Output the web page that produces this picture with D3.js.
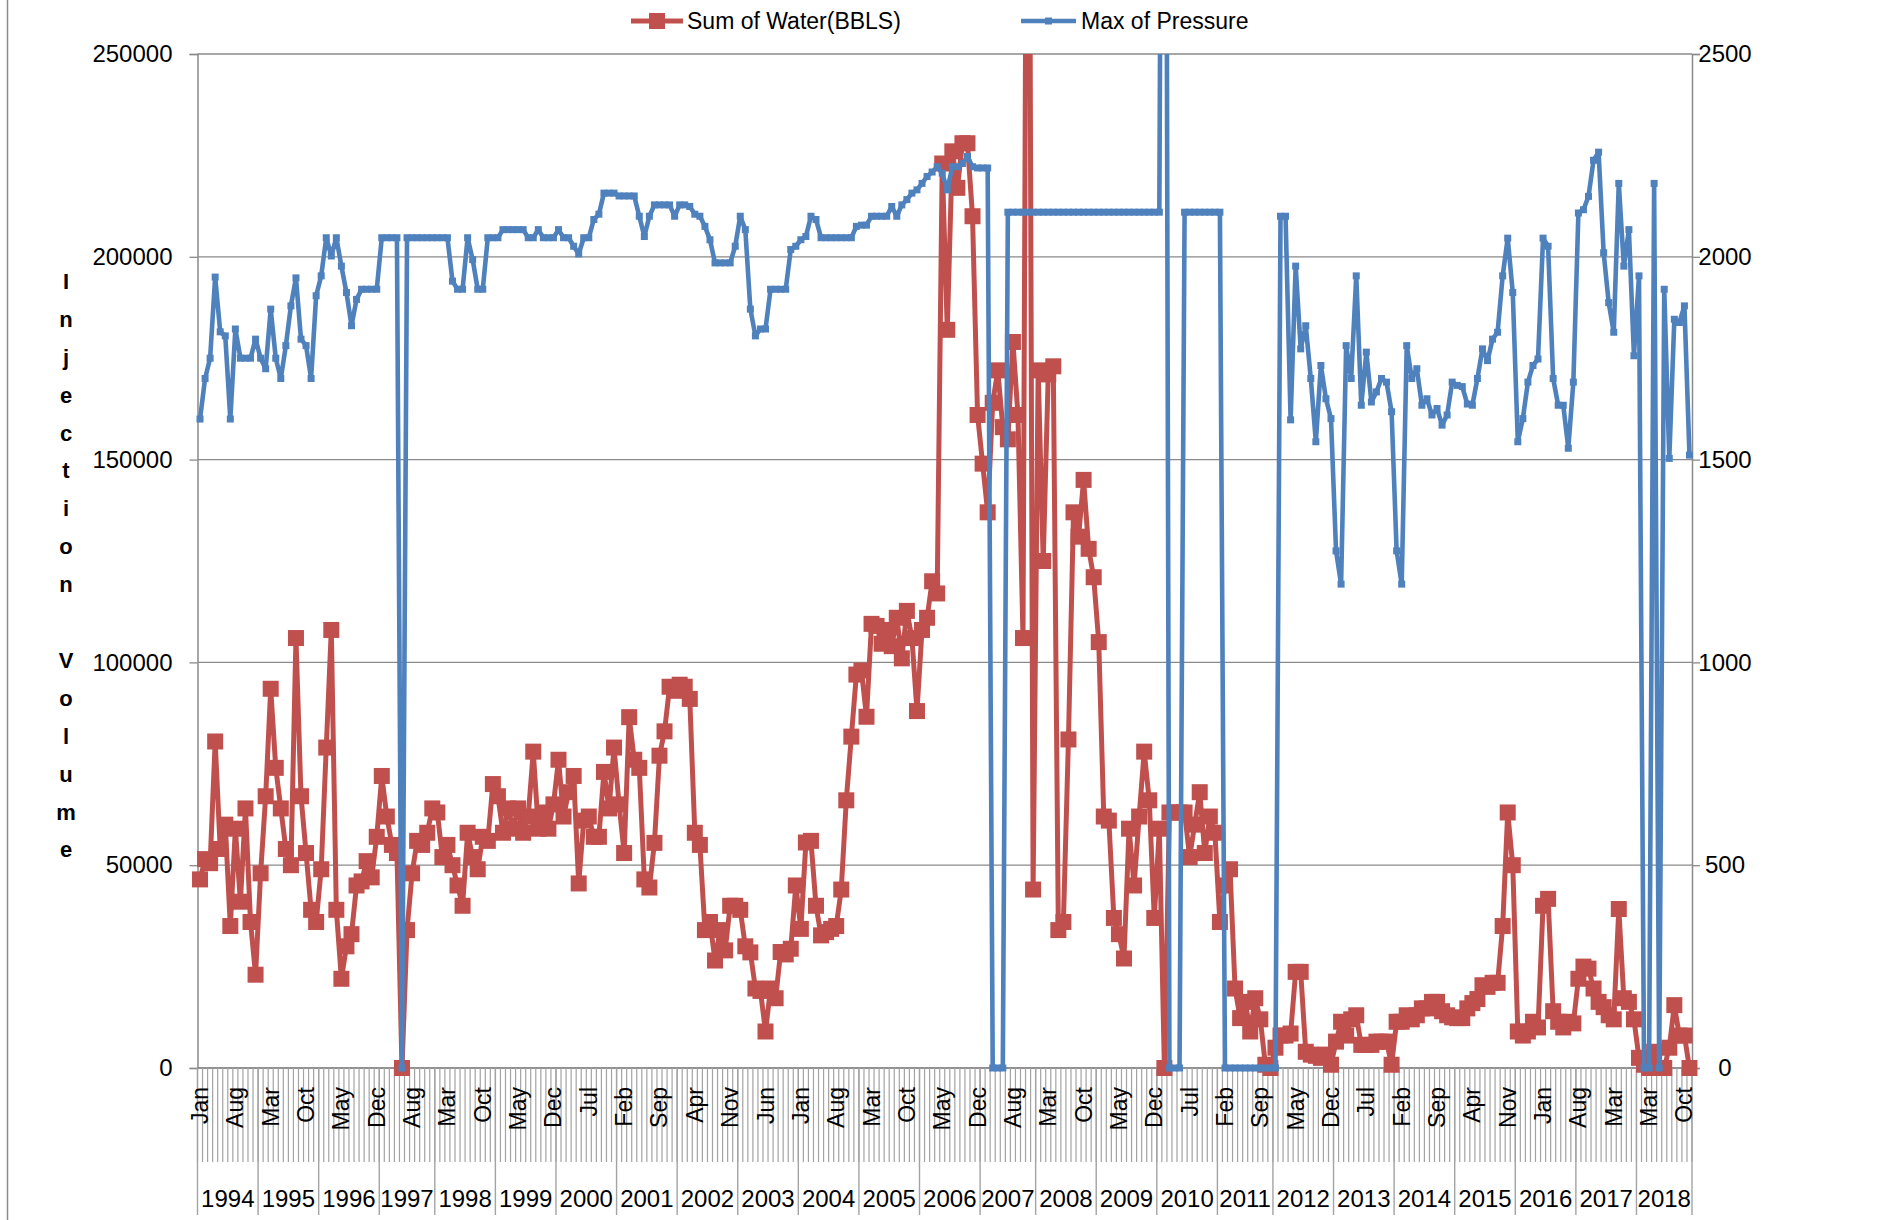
<!DOCTYPE html>
<html><head><meta charset="utf-8">
<script src="https://cdn.jsdelivr.net/npm/d3@7/dist/d3.min.js"></script>
<style>body{margin:0;background:#fff}text{font-family:"Liberation Sans",Arial,sans-serif}</style>
</head><body>
<svg id="c" width="1877" height="1220"></svg>
<script>
// ---------- DATA ----------
const years = [1994,1995,1996,1997,1998,1999,2000,2001,2002,2003,2004,2005,2006,2007,2008,2009,2010,2011,2012,2013,2014,2015,2016,2017,2018];
const monthsFull = ["Jan","Feb","Mar","Apr","May","Jun","Jul","Aug","Sep","Oct","Nov","Dec"];
const months1997 = ["Jan","Feb","Mar","Apr","May","Jun","Aug","Sep","Oct","Nov","Dec"];
const months2007 = ["Jan","Feb","Mar","Apr","May","Jun","Aug","Sep","Oct","Nov","Dec"];
const months2011 = ["Jan","Feb","Mar","Apr","May","Jun","Jul","Aug","Sep","Oct","Dec"];
const months2016 = ["Aug","Sep","Oct","Nov","Dec","Jan","Feb","Mar","Apr","May","Jun","Jul"];
const months2017 = ["Aug","Sep","Oct","Nov","Dec","Jan","Feb","Mar","Apr","May","Jun","Jul"];
const months2018 = ["Jan","Feb","Mar","Apr","May","Jun","Jul","Aug","Sep","Oct","Nov"];

const water = [
 46500,51500,50500,80500,54000,60000,35000,59000,41000,64000,36000,23000,
 48000,67000,93500,74000,64000,54000,50000,106000,67000,53000,39000,36000,
 49000,79000,108000,39000,22000,30000,33000,45000,46000,51000,47000,57000,
 72000,62000,55000,53000,0,34000,48000,56000,55000,58000,64000,
 63000,52000,55000,50000,45000,40000,58000,52000,49000,57000,56000,70000,
 67000,58000,64000,59000,64000,58000,62000,78000,59000,63000,59000,65000,
 76000,62000,68000,72000,45500,61000,62000,57000,57000,73000,64000,79000,
 65000,53000,86500,76000,74000,46500,44500,55500,77000,83000,94000,93000,
 94500,94000,91000,58000,55000,34000,36000,26500,34000,29000,40000,40000,
 39000,30000,28500,19600,19000,9000,19600,17200,28600,28000,29400,45000,
 34300,55600,56000,40000,32700,33500,34300,35000,44000,66000,81700,97000,
 98000,86600,109500,109000,104600,108000,104000,111000,101000,112700,106000,88000,
 108000,111000,120000,117000,223000,182000,226000,217000,228000,228000,210000,161000,
 149000,137000,164000,172000,158000,155000,179000,161000,106000,400000,44000,
 172000,125000,171000,173000,34000,36000,81000,137000,131000,145000,128000,121000,
 105000,62000,61000,37000,33000,27000,59000,45000,62000,78000,66000,37000,
 59000,0,63000,63000,63000,63000,52000,60000,68000,53000,62000,58000,
 36000,45000,49000,19600,12300,16300,9000,17200,12000,800,0,
 5000,8000,8000,8500,23700,23700,4000,3300,3000,2500,3300,800,
 6500,11400,8000,12000,13000,5700,5700,5700,6500,6500,6500,800,
 11400,11400,13000,12000,13000,14700,14700,16300,16300,14000,13000,12500,
 12300,12300,14700,16000,17000,20400,20000,21000,21000,35000,63000,50000,
 9000,8000,9000,11400,10000,40000,41700,14000,11400,10000,11400,11000,
 22000,25000,24500,19600,16300,15000,13000,12000,39200,17200,16300,12000,
 2500,800,0,4000,0,0,5000,15500,8000,8000,0
];

const pressure = [
 1600,1700,1750,1950,1815,1805,1600,1822,1750,1750,1750,1797,
 1750,1724,1871,1750,1700,1781,1879,1948,1797,1781,1700,1904,
 1953,2047,2002,2047,1977,1912,1830,1895,1920,1920,1920,1920,
 2047,2047,2047,2047,0,2047,2047,2047,2047,2047,2047,
 2047,2047,2047,1940,1920,1920,2047,1993,1920,1920,2047,2047,
 2047,2067,2067,2067,2067,2067,2047,2047,2067,2047,2047,2047,
 2067,2047,2047,2026,2007,2047,2047,2092,2105,2157,2157,2157,
 2150,2150,2150,2150,2100,2050,2100,2128,2128,2128,2128,2100,
 2128,2128,2124,2105,2100,2075,2042,1985,1985,1985,1985,2026,
 2100,2067,1871,1805,1822,1822,1920,1920,1920,1920,2018,2026,
 2042,2050,2100,2092,2047,2047,2047,2047,2047,2047,2047,2075,
 2078,2078,2100,2100,2100,2100,2124,2100,2128,2141,2157,2165,
 2181,2198,2209,2222,2206,2165,2222,2222,2230,2247,2222,2219,
 2219,2219,0,0,0,2110,2110,2110,2110,2110,2110,
 2110,2110,2110,2110,2110,2110,2110,2110,2110,2110,2110,2110,
 2110,2110,2110,2110,2110,2110,2110,2110,2110,2110,2110,2110,
 2110,5000,0,0,0,2110,2110,2110,2110,2110,2110,2110,
 2110,0,0,0,0,0,0,0,0,0,0,
 0,2100,2100,1598,1977,1773,1830,1700,1544,1732,1650,1601,
 1275,1193,1781,1700,1953,1634,1765,1642,1667,1700,1691,1618,
 1275,1193,1781,1700,1724,1634,1650,1610,1626,1585,1610,1691,
 1683,1680,1637,1634,1700,1773,1744,1797,1814,1953,2046,1912,
 1544,1601,1691,1732,1748,2046,2026,1700,1634,1634,1528,1691,
 2108,2116,2149,2238,2258,2010,1887,1814,2181,1977,2067,1756,
 1953,0,0,2181,0,1920,1503,1846,1838,1879,1511
];

const waterTicks = [0,50000,100000,150000,200000,250000];
const pressureTicks = [0,500,1000,1500,2000,2500];
const seriesNames = ["Sum of Water(BBLS)","Max of Pressure"];
const axisTitle = "Injection Volume";

// ---------- BUILD ----------
const monthLists = years.map(y => y===1997?months1997: y===2007?months2007: y===2011?months2011:
  y===2016?months2016: y===2017?months2017: y===2018?months2018: monthsFull);
const cats = [];
const groups = [];
monthLists.forEach((ml,k)=>{ const s=cats.length; ml.forEach(m=>cats.push({year:years[k],month:m})); groups.push({year:years[k],start:s,end:cats.length}); });

const RED="#C0504D", BLUE="#4F81BD", GRID="#8a8a8a";
const P={left:197.5,right:1692,top:54,bottom:1068};
const svg=d3.select("#c");
const x=d3.scaleBand().domain(d3.range(cats.length)).range([P.left,P.right]).padding(0);
const bw=x.bandwidth();
const cx=i=>x(i)+bw/2;
const yL=d3.scaleLinear().domain([0,250000]).range([P.bottom,P.top]);
const yR=d3.scaleLinear().domain([0,2500]).range([P.bottom,P.top]);

// outer border line
svg.append("line").attr("x1",7.5).attr("x2",7.5).attr("y1",0).attr("y2",1220).attr("stroke","#8c8c8c").attr("stroke-width",1.5);

// gridlines
svg.append("g").selectAll("line").data(waterTicks).join("line")
  .attr("x1",P.left).attr("x2",P.right).attr("y1",d=>yL(d)).attr("y2",d=>yL(d))
  .attr("stroke",GRID).attr("stroke-width",1.3);

// left axis
const gL=svg.append("g").attr("transform",`translate(${P.left},0)`)
  .call(d3.axisLeft(yL).tickValues(waterTicks).tickSize(8).tickPadding(17).tickFormat(d=>String(d)));
gL.select(".domain").attr("stroke",GRID).attr("stroke-width",1.5);
gL.selectAll(".tick line").attr("stroke",GRID).attr("stroke-width",1.3);
gL.selectAll("text").attr("font-size",24).attr("fill","#000").attr("font-family","Liberation Sans, Arial, sans-serif");

// right axis
const gR=svg.append("g").attr("transform",`translate(${P.right},0)`)
  .call(d3.axisRight(yR).tickValues(pressureTicks).tickSize(8).tickFormat(d=>String(d)));
gR.select(".domain").attr("stroke",GRID).attr("stroke-width",1.5);
gR.selectAll(".tick line").attr("stroke",GRID).attr("stroke-width",1.3);
gR.selectAll("text").attr("font-size",24).attr("fill","#000").attr("x",33).attr("text-anchor","middle")
  .attr("font-family","Liberation Sans, Arial, sans-serif");

// bottom category axis
svg.append("line").attr("x1",P.left).attr("x2",P.right).attr("y1",P.bottom).attr("y2",P.bottom).attr("stroke",GRID).attr("stroke-width",1.5);
const gB=svg.append("g");
gB.selectAll("line.mt").data(d3.range(cats.length+1)).join("line").attr("class","mt")
  .attr("x1",k=>P.left+k*bw).attr("x2",k=>P.left+k*bw).attr("y1",P.bottom).attr("y2",1162)
  .attr("stroke","#a3a3a3").attr("stroke-width",1.2);
const bounds=[0].concat(groups.map(g=>g.end));
gB.selectAll("line.yt").data(bounds).join("line").attr("class","yt")
  .attr("x1",k=>P.left+k*bw).attr("x2",k=>P.left+k*bw).attr("y1",P.bottom).attr("y2",1215)
  .attr("stroke","#a3a3a3").attr("stroke-width",1.4);
gB.selectAll("text.m").data(d3.range(0,cats.length,7)).join("text").attr("class","m")
  .attr("transform",i=>`translate(${cx(i)+8},1087) rotate(-90)`)
  .attr("text-anchor","end").attr("font-size",23).text(i=>cats[i].month);
gB.selectAll("text.y").data(groups).join("text").attr("class","y")
  .attr("x",g=>P.left+(g.start+g.end)/2*bw).attr("y",1207).attr("text-anchor","middle")
  .attr("font-size",24).text(g=>g.year);

// axis title stacked letters
const letters=axisTitle.split("");
svg.append("g").selectAll("text").data(letters).join("text")
  .attr("x",66).attr("y",(d,i)=>281+i*37.9).attr("dy","0.36em").attr("text-anchor","middle")
  .attr("font-size",22).attr("font-weight","bold").text(d=>d===" "?"":d);

// clip
svg.append("defs").append("clipPath").attr("id","pc").append("rect")
  .attr("x",150).attr("y",P.top).attr("width",1600).attr("height",1100);

const plotG=svg.append("g").attr("clip-path","url(#pc)");
// water series
plotG.append("path").datum(water).attr("fill","none").attr("stroke",RED).attr("stroke-width",5)
  .attr("stroke-linejoin","round").attr("d",d3.line().x((d,i)=>cx(i)).y(d=>yL(d)));
plotG.append("g").selectAll("rect").data(water).join("rect")
  .attr("x",(d,i)=>cx(i)-8).attr("y",d=>yL(d)-8).attr("width",16).attr("height",16).attr("fill",RED);
// pressure series
plotG.append("path").datum(pressure).attr("fill","none").attr("stroke",BLUE).attr("stroke-width",4.6)
  .attr("stroke-linejoin","round").attr("d",d3.line().x((d,i)=>cx(i)).y(d=>yR(d)));
plotG.append("g").selectAll("rect").data(pressure).join("rect")
  .attr("x",(d,i)=>cx(i)-3.5).attr("y",d=>yR(d)-3.5).attr("width",7).attr("height",7).attr("fill",BLUE);

// legend
const lg=svg.append("g");
lg.append("line").attr("x1",631).attr("x2",683).attr("y1",21).attr("y2",21).attr("stroke",RED).attr("stroke-width",5);
lg.append("rect").attr("x",649).attr("y",13).attr("width",16).attr("height",16).attr("fill",RED);
lg.append("text").attr("x",687).attr("y",29).attr("font-size",23).text(seriesNames[0]);
lg.append("line").attr("x1",1021).attr("x2",1076).attr("y1",21).attr("y2",21).attr("stroke",BLUE).attr("stroke-width",4.6);
lg.append("rect").attr("x",1045).attr("y",17.5).attr("width",7).attr("height",7).attr("fill",BLUE);
lg.append("text").attr("x",1081).attr("y",29).attr("font-size",23).text(seriesNames[1]);
</script>
</body></html>
